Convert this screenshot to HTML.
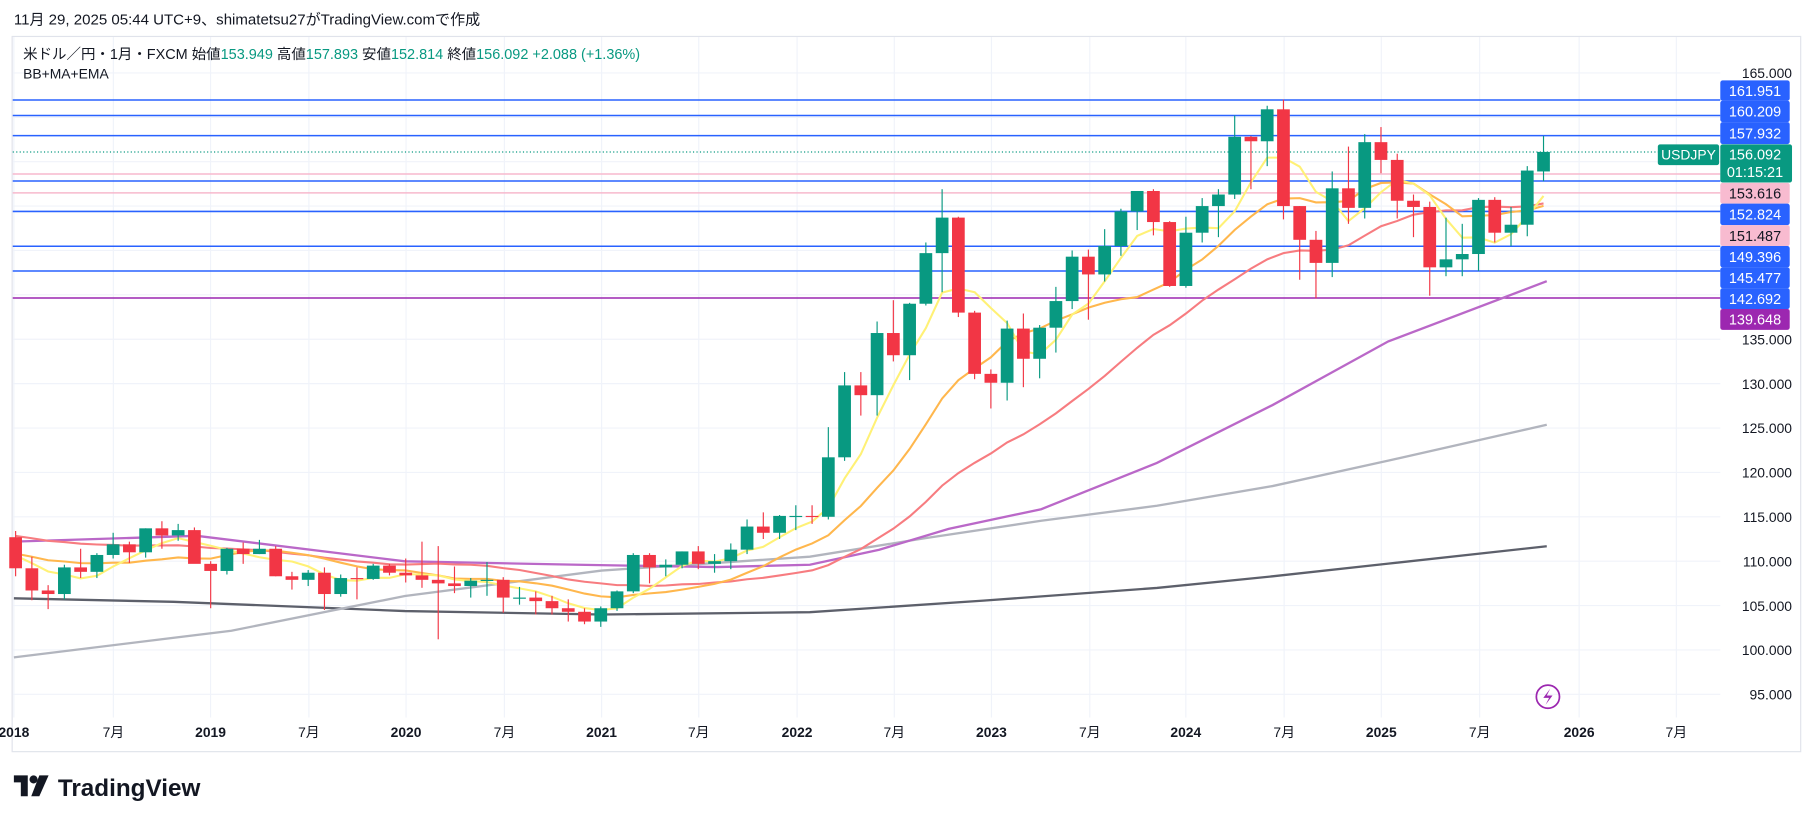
<!DOCTYPE html>
<html><head><meta charset="utf-8"><style>
html,body{margin:0;padding:0;background:#fff;}
svg{display:block;font-family:"Liberation Sans","Noto Sans CJK JP",sans-serif;}
</style></head><body>
<svg id="c" width="1814" height="824" viewBox="0 0 1568 712" preserveAspectRatio="none" xmlns="http://www.w3.org/2000/svg">
<rect x="0" y="0" width="1568" height="712" fill="#fff"/>
<text x="12" y="21" font-size="13" fill="#131722">11月 29, 2025 05:44 UTC+9、shimatetsu27がTradingView.comで作成</text>
<rect x="10.5" y="31.5" width="1546" height="618" fill="none" stroke="#e0e3eb" stroke-width="1"/>
<g id="grid"></g>
<g id="hl"></g>
<g id="ma"></g>
<g id="cd"></g>
<text x="20" y="51" font-size="12.5" fill="#131722">米ドル／円・1月・FXCM  始値<tspan fill="#089981">153.949</tspan>  高値<tspan fill="#089981">157.893</tspan>  安値<tspan fill="#089981">152.814</tspan>  終値<tspan fill="#089981">156.092  +2.088 (+1.36%)</tspan></text>
<text x="20" y="68" font-size="12" fill="#131722">BB+MA+EMA</text>
<g id="ax"></g>
<circle cx="1338" cy="602" r="10" fill="none" stroke="#9c27b0" stroke-width="1.5"/>
<path d="M1340 595 L1334 603 L1339 603 L1336 609 L1342 601 L1337 601 Z" fill="#9c27b0"/>
<g transform="translate(12,670)">
<path d="M0 0 H12 V18 H6 V6 H0 Z" fill="#131722"/>
<circle cx="17" cy="3.5" r="3.5" fill="#131722"/>
<path d="M22 0 H30 L22 18 H15 Z" fill="#131722"/>
</g>
<text x="50" y="688" font-size="21" font-weight="bold" fill="#131722">TradingView</text>
</svg>
<script>
const NS="http://www.w3.org/2000/svg";
function Y(p){return 63+(165-p)*7.671;}
function X(i){return 13.5+i*14.05;}
function el(par,tag,a,txt){const e=document.createElementNS(NS,tag);for(const k in a)e.setAttribute(k,a[k]);if(txt!==undefined)e.textContent=txt;document.getElementById(par).appendChild(e);return e;}
const PR=1487;
// grid
for(let p=95;p<=165;p+=5){el('grid','line',{x1:11,x2:PR,y1:Y(p),y2:Y(p),stroke:'#f0f3fa','stroke-width':1});}
const xl=[["2018",12],["7月",98],["2019",182],["7月",267],["2020",351],["7月",436],["2021",520],["7月",604],["2022",689],["7月",773],["2023",857],["7月",942],["2024",1025],["7月",1110],["2025",1194],["7月",1279],["2026",1365],["7月",1449]];
xl.forEach(([t,x])=>{el('grid','line',{x1:x,x2:x,y1:32,y2:620,stroke:'#f0f3fa','stroke-width':1});el('ax','text',{x:x,y:637,'font-size':12,'text-anchor':'middle',fill:'#131722','font-weight':(t.length==4?'bold':'normal')},t);});
// price axis labels
[165,135,130,125,120,115,110,105,100,95].forEach(p=>el('ax','text',{x:1549,y:Y(p)+4.5,'font-size':12,'text-anchor':'end',fill:'#131722'},p.toFixed(3)));
// horizontal lines
[[161.951,'#2962ff'],[160.209,'#2962ff'],[157.932,'#2962ff'],[152.824,'#2962ff'],[149.396,'#2962ff'],[145.477,'#2962ff'],[142.692,'#2962ff'],[139.648,'#9c27b0'],[153.616,'#f7b9cd'],[151.487,'#f7b9cd']].forEach(([p,c])=>el('hl','line',{x1:11,x2:PR,y1:Y(p),y2:Y(p),stroke:c,'stroke-width':1.3}));
el('hl','line',{x1:11,x2:PR,y1:Y(156.092),y2:Y(156.092),stroke:'#089981','stroke-width':1,'stroke-dasharray':'1 2'});
// data
const D=`112.7,113.4,108.3,109.2;109.2,110.5,105.6,106.7;106.7,107.3,104.6,106.3;106.3,109.6,105.7,109.3;109.3,111.4,108.1,108.8;108.8,110.9,108.1,110.7;110.7,113.2,110.3,111.9;111.9,112.2,109.8,111.0;111.0,113.7,110.4,113.7;113.7,114.5,111.4,112.9;112.9,114.2,112.3,113.5;113.5,113.8,110.4,109.7;109.7,110.0,104.7,108.9;108.9,111.5,108.5,111.4;111.4,112.1,109.7,110.8;110.8,112.4,110.8,111.4;111.4,111.7,108.3,108.3;108.3,108.8,106.8,107.9;107.9,109.0,107.2,108.7;108.7,109.3,104.5,106.3;106.3,108.5,106.0,108.1;108.1,109.3,105.7,108.0;108.0,109.7,107.9,109.5;109.5,109.7,108.4,108.7;108.7,110.3,107.6,108.4;108.4,112.2,107.0,107.9;107.9,111.7,101.2,107.5;107.5,109.4,106.4,107.2;107.2,108.1,105.9,107.8;107.8,109.9,106.1,107.9;107.9,108.2,104.2,105.9;105.9,107.1,105.1,105.9;105.9,106.6,104.0,105.5;105.5,106.1,104.0,104.7;104.7,105.7,103.2,104.3;104.3,104.7,102.9,103.2;103.2,104.9,102.6,104.7;104.7,106.7,104.4,106.6;106.6,110.9,106.4,110.7;110.7,110.9,107.5,109.3;109.3,110.2,108.3,109.6;109.6,111.1,109.2,111.1;111.1,111.7,109.1,109.7;109.7,110.8,108.7,110.0;110.0,112.0,109.1,111.3;111.3,114.7,110.8,113.9;113.9,115.5,112.5,113.2;113.2,115.2,112.5,115.1;115.1,116.3,113.5,115.1;115.1,116.3,114.2,115.0;115.0,125.1,114.7,121.7;121.7,131.3,121.3,129.8;129.8,131.3,126.4,128.7;128.7,137.0,126.4,135.7;135.7,139.4,132.5,133.2;133.2,139.1,130.4,139.0;139.0,145.9,138.8,144.7;144.7,151.9,140.3,148.7;148.7,148.8,137.5,138.0;138.0,138.2,130.5,131.1;131.1,131.6,127.2,130.1;130.1,137.1,128.1,136.2;136.2,137.9,129.6,132.8;132.8,136.6,130.6,136.3;136.3,140.9,133.5,139.3;139.3,145.0,138.4,144.3;144.3,145.1,137.2,142.3;142.3,147.4,141.5,145.5;145.5,149.7,144.4,149.4;149.4,151.7,147.3,151.7;151.7,151.9,146.7,148.2;148.2,148.3,140.9,141.0;141.0,148.8,140.8,147.0;147.0,150.9,145.9,150.0;150.0,151.9,146.5,151.3;151.3,160.2,150.8,157.8;157.8,157.9,151.9,157.3;157.3,161.3,154.5,160.9;160.9,162.0,148.5,150.0;150.0,150.0,141.7,146.2;146.2,147.2,139.6,143.6;143.6,153.9,142.0,152.0;152.0,156.7,148.0,149.8;149.8,158.1,148.6,157.2;157.2,158.9,153.7,155.2;155.2,155.9,148.6,150.6;150.6,151.3,146.5,149.9;149.9,150.5,139.9,143.1;143.1,148.7,142.1,144.0;144.0,148.0,142.1,144.6;144.6,150.9,142.7,150.7;150.7,151.0,145.9,147.0;147.0,149.9,145.5,147.9;147.9,154.5,146.6,154.0;153.9,157.9,152.8,156.1`.split(';').map(s=>s.split(',').map(Number));
const C=D.map(d=>d[3]);
function sma(n,pad){const a=[];for(let i=0;i<C.length;i++){let s=0;for(let k=i-n+1;k<=i;k++)s+=k<0?pad:C[k];a.push(s/n);}return a;}
function pl(pts,col,w){el('ma','polyline',{points:pts.map(p=>p[0].toFixed(1)+','+p[1].toFixed(1)).join(' '),fill:'none',stroke:col,'stroke-width':w});}
pl([[12,517],[150,520],[350,528],[520,531],[700,529],[850,519],[1000,508],[1100,498],[1200,487],[1337,472]],'#5d606b',2);
pl([[12,568],[200,545],[350,515],[520,493],[700,481],[800,465],[900,450],[1000,437],[1100,420],[1200,398],[1337,367]],'#b2b5be',2);
pl([[12,468],[170,463],[350,485],[500,488],[620,490],[700,488],[760,475],[820,457],[900,440],[1000,400],[1100,350],[1200,295],[1337,243]],'#ba68c8',2);
[[24,'#f77c80',113],[12,'#ffb74d',111],[5,'#fff176',111]].forEach(([n,c,pad])=>{const a=sma(n,pad);pl(a.map((v,i)=>[X(i),Y(v)]),c,1.8);});
// candles
D.forEach((d,i)=>{const [o,h,l,c]=d;const col=c>=o?'#089981':'#f23645';const x=X(i);
el('cd','line',{x1:x,x2:x,y1:Y(h),y2:Y(l),stroke:col,'stroke-width':1});
const t=Y(Math.max(o,c)),b=Y(Math.min(o,c));el('cd','rect',{x:x-5.5,y:t,width:11,height:Math.max(1,b-t),fill:col});});
// right labels
function lab(y1,y2,bg,fg,t){el('ax','rect',{x:1487,y:y1,width:60,height:y2-y1,fill:bg,rx:2});el('ax','text',{x:1517,y:(y1+y2)/2+4.5,'font-size':12.5,'text-anchor':'middle',fill:fg},t);}
lab(69.5,87,'#2962ff','#fff','161.951');
lab(87,105.5,'#2962ff','#fff','160.209');
lab(105.5,124.5,'#2962ff','#fff','157.932');
el('ax','rect',{x:1487,y:124.7,width:62,height:33,fill:'#089981',rx:2});
el('ax','text',{x:1517,y:138,'font-size':12.5,'text-anchor':'middle',fill:'#fff'},'156.092');
el('ax','text',{x:1517,y:153,'font-size':12.5,'text-anchor':'middle',fill:'#fff'},'01:15:21');
el('ax','rect',{x:1433,y:124.7,width:53,height:18,fill:'#089981',rx:2});
el('ax','text',{x:1459.5,y:138,'font-size':12,'text-anchor':'middle',fill:'#fff'},'USDJPY');
lab(158,176,'#f8bbd0','#131722','153.616');
lab(176,194.5,'#2962ff','#fff','152.824');
lab(194.5,212.6,'#f8bbd0','#131722','151.487');
lab(212.6,231,'#2962ff','#fff','149.396');
lab(231,249,'#2962ff','#fff','145.477');
lab(249,267,'#2962ff','#fff','142.692');
lab(267,285,'#9c27b0','#fff','139.648');
</script>
</body></html>
